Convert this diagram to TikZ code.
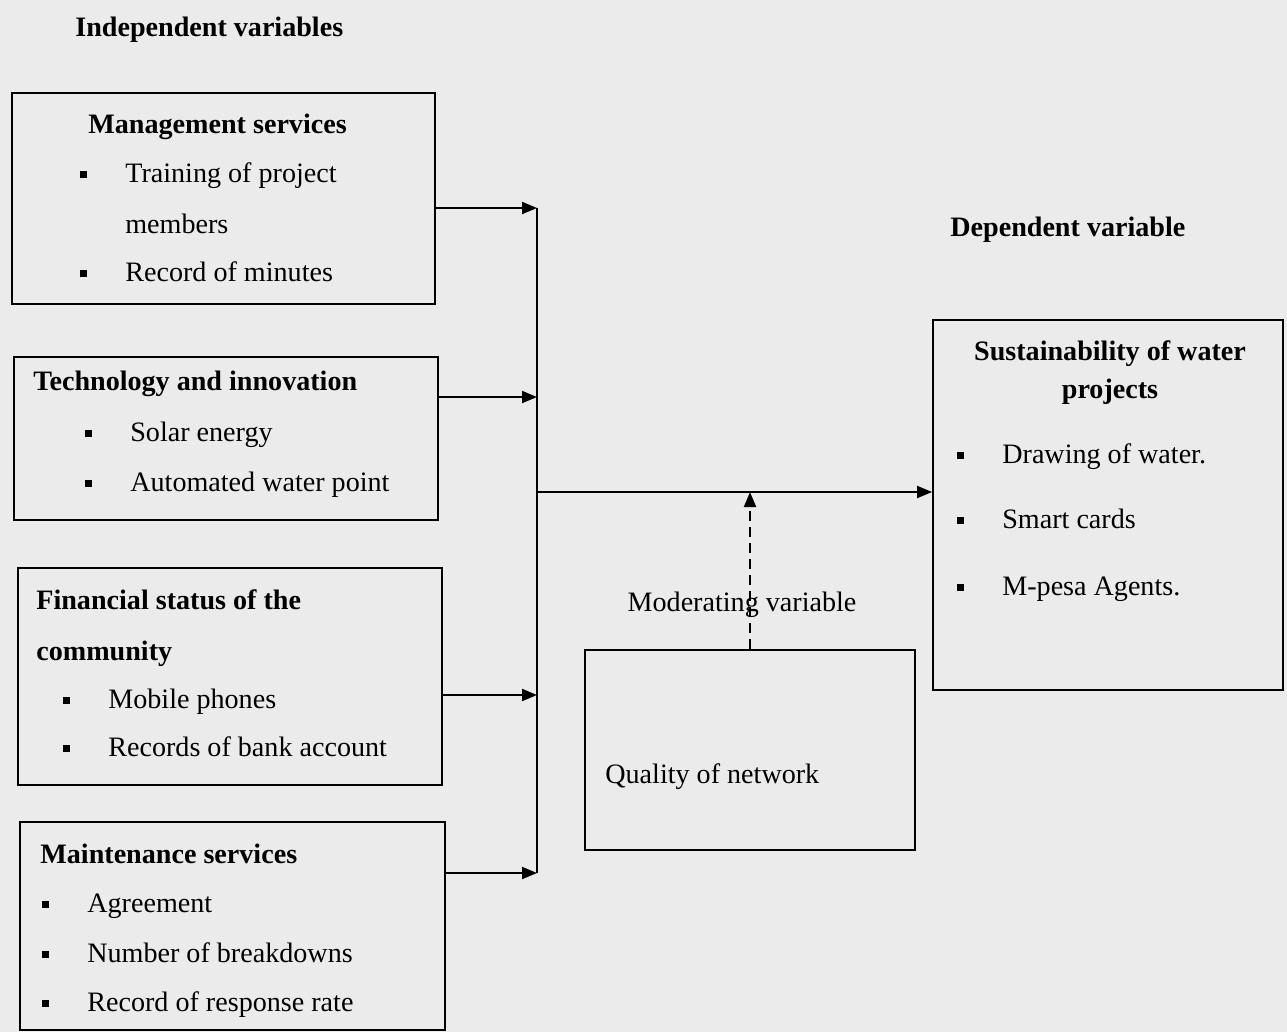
\documentclass[tikz,border=0pt]{standalone}
\usepackage{fontspec}
\setmainfont{Liberation Serif}
\usetikzlibrary{arrows.meta}
\newcommand{\itm}[1]{\makebox[0.9cm][l]{\rule[2.2pt]{4pt}{4pt}}#1}
\newcommand{\hd}[1]{\textbf{#1}}

\begin{document}
\begin{tikzpicture}[x=0.02cm,y=-0.02cm]
                        \tikzstyle{box}=[draw, rectangle, line width=1.1pt, inner sep=0pt]
                        \tikzstyle{txt}=[anchor=base west, inner sep=0pt, font=\fontsize{16}{19}\selectfont]
                        \tikzstyle{mid}=[txt, anchor=base]
                        \tikzstyle{arr}=[line width=1.1pt, -{Triangle[length=0.3cm,width=0.24cm]}]
                        \fill[black!8] (0,0) rectangle (1287,1032);
                        \useasboundingbox (0,0) rectangle (1287,1032);
                        \node[box, minimum width=8.46cm, minimum height=4.22cm] (mgmt) at (223.5,198.5) {};
                        \node[box, minimum width=8.48cm, minimum height=3.26cm] (tech) at (226,438.5) {};
                        \node[box, minimum width=8.48cm, minimum height=4.34cm] (fin) at (230,676.5) {};
                        \node[box, minimum width=8.5cm, minimum height=4.16cm] (maint) at (232.5,926) {};
                        \node[box, minimum width=7.0cm, minimum height=7.4cm] (sust) at (1108,505) {};
                        \node[box, minimum width=6.6cm, minimum height=4.0cm] (qual) at (750,750) {};
                        \node[txt] (indep) at (75,36) {\hd{Independent variables}};
                        \node[txt] (dep) at (950,236) {\hd{Dependent variable}};
                        \node[txt] (mgmthd) at (88,133) {\hd{Management services}};
                        \node[txt] (mgmt1) at (80,182) {\itm{Training of project}};
                        \node[txt] (mgmt1b) at (125,233) {members};
                        \node[txt] (mgmt2) at (80,281) {\itm{Record of minutes}};
                        \node[txt] (techhd) at (33,390) {\hd{Technology and innovation}};
                        \node[txt] (tech1) at (85,441) {\itm{Solar energy}};
                        \node[txt] (tech2) at (85,491) {\itm{Automated water point}};
                        \node[txt] (finhd) at (36,609) {\hd{Financial status of the}};
                        \node[txt] (finhdb) at (36,660) {\hd{community}};
                        \node[txt] (fin1) at (63,708) {\itm{Mobile phones}};
                        \node[txt] (fin2) at (63,756) {\itm{Records of bank account}};
                        \node[txt] (mainthd) at (40,863) {\hd{Maintenance services}};
                        \node[txt] (maint1) at (42,912) {\itm{Agreement}};
                        \node[txt] (maint2) at (42,962) {\itm{Number of breakdowns}};
                        \node[txt] (maint3) at (42,1011) {\itm{Record of response rate}};
                        \node[mid] (susthd) at (1110,360) {\hd{Sustainability of water}};
                        \node[mid] (susthdb) at (1110,398) {\hd{projects}};
                        \node[txt] (sust1) at (957,463) {\itm{Drawing of water.}};
                        \node[txt] (sust2) at (957,528) {\itm{Smart cards}};
                        \node[txt] (sust3) at (957,595) {\itm{M-pesa Agents.}};
                        \node[mid] (moder) at (742,611) {Moderating variable};
                        \node[txt] (qualtx) at (605,783) {Quality of network};
                        \coordinate (j1) at (537,208);
                        \coordinate (j2) at (537,397);
                        \coordinate (j3) at (537,695);
                        \coordinate (j4) at (537,873);
                        \coordinate (hub) at (537,492);
                        \draw[line width=1.1pt] (j1) -- (j4);
                        \draw[arr] (mgmt.east |- j1) -- (j1);
                        \draw[arr] (tech.east |- j2) -- (j2);
                        \draw[arr] (fin.east |- j3) -- (j3);
                        \draw[arr] (maint.east |- j4) -- (j4);
                        \draw[arr] (hub) -- (hub -| sust.west);
                        \draw[arr, dash pattern=on 0.2cm off 0.12cm] (qual.north) -- (qual.north |- hub);
\end{tikzpicture}
\end{document}
